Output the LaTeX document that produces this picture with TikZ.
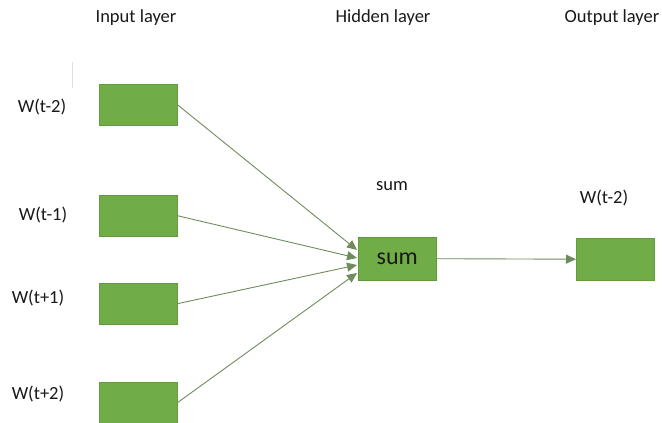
\documentclass[tikz,border=0pt]{standalone}
\usepackage{fontspec}
\setmainfont{Carlito}
\usetikzlibrary{arrows.meta}
\definecolor{boxgreen}{HTML}{70AD47}
\definecolor{boxedge}{HTML}{5E9A3B}
\definecolor{linegreen}{RGB}{112,140,92}
\definecolor{txt}{RGB}{25,25,25}
\begin{document}
\begin{tikzpicture}[x=1pt,y=-1pt,
  wbox/.style={fill=boxgreen,draw=boxgreen!90!black,line width=0.4pt,minimum width=78pt,minimum height=41pt,inner sep=0pt,anchor=north west},
  lbl/.style={text=txt,font=\fontsize{18.5}{20}\selectfont,inner sep=0pt},
  conn/.style={draw=linegreen,line width=0.9pt,-{Triangle[length=10pt,width=9pt]}}]
\useasboundingbox[fill=white] (0,0) rectangle (662,423);
% layer titles
\node[lbl] (tin) at (136,18) {Input layer};
\node[lbl] (thid) at (383,18) {Hidden layer};
\node[lbl] (tout) at (612,18) {Output layer};
% faint mark
\draw[black!12,line width=0.8pt] (72,62) -- (72,88);
% input boxes
\node[wbox] (b1) at (99,84) {};
\node[wbox] (b2) at (99,195) {};
\node[wbox] (b3) at (99,283) {};
\node[wbox] (b4) at (99,382) {};
\node[lbl] (l1) at (42,107) {W(t-2)};
\node[lbl] (l2) at (43,215) {W(t-1)};
\node[lbl] (l3) at (38,298) {W(t+1)};
\node[lbl] (l4) at (38,394) {W(t+2)};
% hidden
\node[wbox,minimum height=43pt,draw=boxedge] (sum) at (358,237) {};
\node[text=txt,font=\fontsize{24}{26}\selectfont,inner sep=0pt] (sumt) at (sum.center) {sum};
\node[lbl] (suml) at (392,186) {sum};
% output
\node[wbox,minimum height=42pt] (out) at (576,238) {};
\node[lbl] (outl) at (604,198) {W(t-2)};
% connectors
\coordinate (e1) at (357,250);
\coordinate (e2) at (357,258);
\coordinate (e3) at (357,265);
\coordinate (e4) at (357,273);
\draw[conn] (b1.east) -- (e1);
\draw[conn] (b2.east) -- (e2);
\draw[conn] (b3.east) -- (e3);
\draw[conn] (b4.east) -- (e4);
\draw[conn] (sum.east) -- (out.west);
\end{tikzpicture}
\end{document}
